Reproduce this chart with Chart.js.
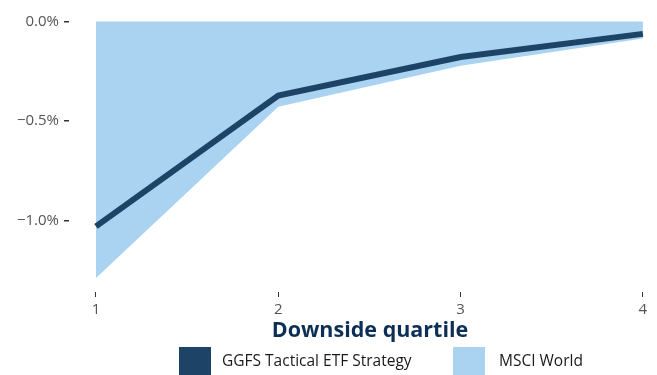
<!DOCTYPE html>
<html>
<head>
<meta charset="utf-8">
<script src="https://cdn.jsdelivr.net/npm/chart.js@4/dist/chart.umd.min.js"></script>
<style>
  html, body { margin: 0; padding: 0; background: #ffffff; }
  #wrap { width: 657px; height: 375px; }
</style>
</head>
<body>
<div id="wrap"><canvas id="c" width="657" height="375"></canvas></div>
<script>
// Downside quartiles and the average return of each series within them (%)
const quartiles = [1, 2, 3, 4];
const ggfsTactical = [-1.03, -0.372, -0.178, -0.062];
const msciWorld = [-1.29, -0.429, -0.222, -0.085];
const yTickValues = [0, -0.5, -1.0];
const seriesNames = ['GGFS Tactical ETF Strategy', 'MSCI World'];
const axisTitle = 'Downside quartile';

const NAVY = '#1d4466';
const SKY = '#aad3f2';
const FONT = '"Open Sans", "DejaVu Sans", sans-serif';

const toPoints = vals => quartiles.map((q, i) => ({ x: q, y: vals[i] }));

// Axis title and swatch legend drawn beneath the plot
const footer = {
  id: 'footer',
  afterDraw(chart) {
    const ctx = chart.ctx;
    ctx.save();
    ctx.fillStyle = '#0d2f55';
    ctx.font = 'bold 21.5px ' + FONT;
    ctx.textAlign = 'center';
    ctx.textBaseline = 'middle';
    ctx.fillText(axisTitle, 370, 331);

    const items = [
      { name: seriesNames[0], color: NAVY, box: 179, text: 222 },
      { name: seriesNames[1], color: SKY, box: 453, text: 499 }
    ];
    ctx.font = '15.5px ' + FONT;
    ctx.textAlign = 'left';
    items.forEach(it => {
      ctx.fillStyle = it.color;
      ctx.fillRect(it.box, 347, 32, 30);
      ctx.fillStyle = '#1a1a1a';
      ctx.fillText(it.name, it.text, 362);
    });
    ctx.restore();
  }
};

new Chart(document.getElementById('c'), {
  type: 'line',
  data: {
    datasets: [
      {
        label: seriesNames[0],
        data: toPoints(ggfsTactical),
        borderColor: NAVY,
        borderWidth: 6,
        pointRadius: 0,
        tension: 0,
        fill: false,
        order: 0
      },
      {
        label: seriesNames[1],
        data: toPoints(msciWorld),
        borderWidth: 0,
        borderColor: SKY,
        backgroundColor: SKY,
        pointRadius: 0,
        tension: 0,
        fill: 'origin',
        order: 1
      }
    ]
  },
  options: {
    responsive: false,
    animation: false,
    devicePixelRatio: 1,
    layout: { padding: { left: 0, right: 5, top: 11, bottom: 23 } },
    plugins: {
      legend: { display: false },
      tooltip: { enabled: false }
    },
    scales: {
      x: {
        type: 'linear',
        min: 0.852,
        max: 4.05,
        border: { display: false },
        grid: { drawOnChartArea: false, drawTicks: true, tickLength: 5, tickColor: '#333333', lineWidth: 1 },
        ticks: {
          color: '#555555',
          font: { family: FONT, size: 15 },
          padding: 4,
          callback: v => String(v)
        },
        afterBuildTicks: s => { s.ticks = quartiles.map(v => ({ value: v })); },
        afterFit: s => { s.height = 60; }
      },
      y: {
        min: -1.36,
        max: 0.038,
        border: { display: false },
        grid: { drawOnChartArea: false, drawTicks: true, tickLength: 5, tickColor: '#333333', lineWidth: 1.5 },
        ticks: {
          color: '#555555',
          font: { family: FONT, size: 15 },
          padding: 5,
          callback: v => (v < 0 ? '\u2212' : '') + Math.abs(v).toFixed(1) + '%'
        },
        afterBuildTicks: s => { s.ticks = yTickValues.map(v => ({ value: v })); },
        afterFit: s => { s.width = 69; }
      }
    }
  },
  plugins: [footer]
});
</script>
</body>
</html>
